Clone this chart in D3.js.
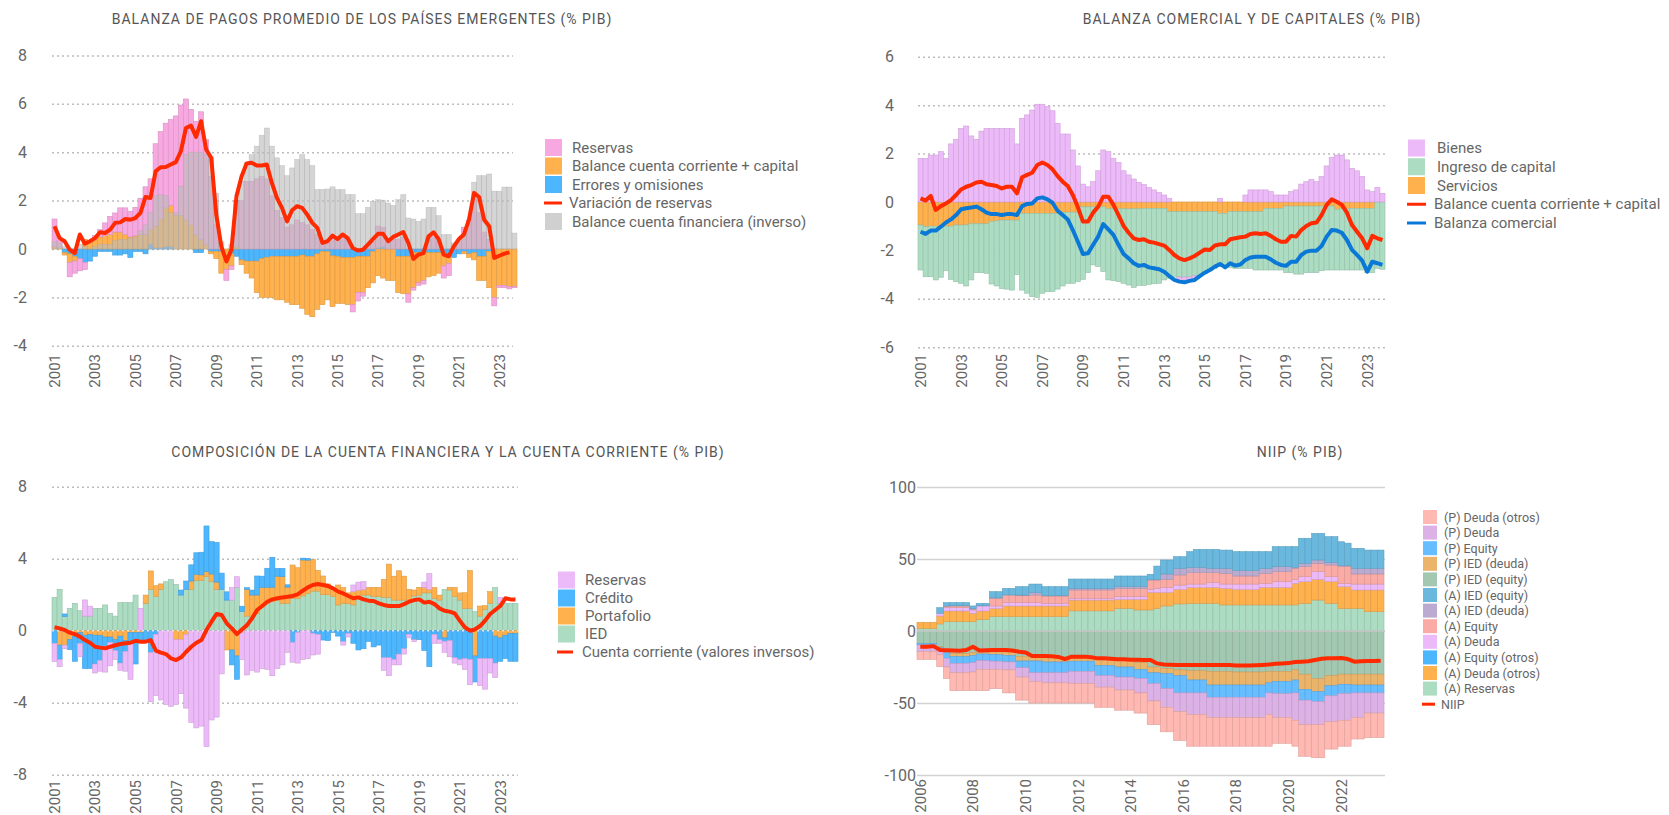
<!DOCTYPE html>
<html>
<head>
<meta charset="utf-8">
<script src="https://cdn.jsdelivr.net/npm/d3@7"></script>
<style>
body { margin: 0; background: #fff; }
text { font-family: Roboto, "Noto Sans", sans-serif; }
.title { font-size: 14px; fill: #555; letter-spacing: 1px; }
.axis text { font-size: 16px; fill: #666; font-family: Roboto, "Noto Sans", sans-serif; }
.axis.xlab text { font-size: 15px; }
.legend text { fill: #666; }
</style>
</head>
<body>
<svg id="chart"></svg>
<script>
// ---------- categories / ticks ----------
function yearQuarters(startYear, count) {
  const out = [];
  for (let i = 0; i < count; i++) out.push((startYear + Math.floor(i / 4)) + "T" + (i % 4 + 1));
  return out;
}
const quarters01 = yearQuarters(2001, 92);   // 2001T1 .. 2023T4
const quarters06 = yearQuarters(2006, 71);   // 2006T1 .. 2023T3
const ticks01 = ["2001","2003","2005","2007","2009","2011","2013","2015","2017","2019","2021","2023"];
const ticks06 = ["2006","2008","2010","2012","2014","2016","2018","2020","2022"];

// ---------- panel 1: balanza de pagos ----------
const p1Errores = [
  0, 0, -0.15, -0.2,   -0.3, -0.4, -0.55, -0.5,   -0.3, -0.1, -0.1, -0.1,   -0.25, -0.25, -0.2, -0.35,
  -0.1, -0.1, -0.2, 0.2,   0.05, 0.05, 0.1, 0.1,   0, 0, 0, 0,   -0.15, -0.15, 0, -0.1,
  -0.1, -0.1, 0, -0.2,   -0.3, -0.45, -0.5, -0.5,   -0.5, -0.4, -0.35, -0.3,   -0.3, -0.3, -0.3, -0.3,
  -0.3, -0.25, -0.3, -0.3,   -0.2, -0.1, -0.1, -0.28,   -0.3, -0.35, -0.35, -0.35,   -0.3, -0.3, -0.3, -0.1,
  0.05, 0.1, 0, 0,   -0.3, -0.3, -0.3, -0.15,   -0.15, -0.1, -0.15, -0.15,   -0.15, -0.2, -0.3, -0.35,
  -0.2, -0.1, -0.2, -0.15,   -0.3, -0.3, -0.1, 0,   0, 0, 0, 0
];
const p1Balance = [
  0.1, 0.05, -0.1, -0.35,   -0.2, 0, 0.4, 0.3,   0.4, 0.5, 0.55, 0.6,   0.7, 0.7, 0.6, 0.5,
  0.55, 0.6, 0.6, 0.6,   0.9, 1.2, 1.6, 1.7,   1.4, 1.4, 1.2, 1.0,   0.6, 0.4, 0.2, -0.1,
  -0.3, -0.9, -0.85, -0.5,   0.1, -0.2, -0.5, -0.7,   -1.3, -1.6, -1.65, -1.7,   -1.8, -1.8, -1.9, -2.0,
  -2.0, -2.2, -2.4, -2.5,   -2.3, -2.2, -2.0, -2.1,   -1.95, -1.9, -1.95, -1.95,   -1.5, -1.5, -1.3, -1.3,
  -1.1, -1.2, -1.3, -1.3,   -1.5, -1.55, -1.55, -1.45,   -1.25, -1.2, -1.0, -0.95,   -0.85, -0.5, -0.3, 0,
  0, -0.1, -0.15, -0.3,   -1.0, -1.0, -1.5, -2.0,   -1.5, -1.5, -1.55, -1.55
];
const p1Reservas = [
  1.14, 0.3, 0, -0.6,   -0.5, -0.5, -0.3, 0,   0.15, 0.3, 0.53, 0.75,   0.79, 1.0, 1.1, 1.06,
  1.17, 1.5, 1.97, 2.1,   3.4, 3.6, 3.5, 3.55,   4.1, 4.55, 5.0, 4.77,   4.68, 5.27, 4.32, 3.0,
  1.0, 0, -0.45, -0.15,   1.9, 2.0, 2.8, 2.8,   2.9, 3.0, 2.9, 2.2,   1.6, 1.3, 0.9, 1.0,
  1.2, 1.1, 1.0, 0.8,   0.6, 0.3, 0.3, 0.5,   0.4, 0.5, 0.4, -0.3,   -0.35, -0.15, 0.2, 0.3,
  0.9, 0.8, 0.4, 0.4,   0.4, 0.5, -0.35, -0.1,   -0.1, -0.15, 0.5, 0.5,   0.3, -0.5, -0.5, 0.1,
  0.3, 0.9, 1.2, 2.1,   1.5, 0.7, 0.4, -0.35,   -0.1, -0.1, -0.1, -0.05
];
const p1Financiera = [
  0.3, 0.25, 0.1, 0,   0, 0.2, 0.1, 0,   0.1, 0.2, 0.2, 0.2,   0.35, 0.4, 0.4, 0.45,
  0.5, 0.75, 1.0, 1.5,   2.2, 2.25, 2.2, 1.5,   1.5, 2.6, 3.9, 4.0,   4.0, 4.0, 3.9, 3.8,
  2.3, 0.3, 0, 0.2,   2.0, 2.8, 3.56, 3.9,   4.25, 4.7, 5.0, 4.25,   3.77, 3.45, 3.03, 3.35,
  3.7, 3.9, 3.7, 3.45,   2.46, 2.46, 2.48, 2.57,   2.46, 2.46, 2.25, 2.25,   1.46, 1.46, 1.72, 1.97,
  2.04, 2.02, 1.9, 1.8,   2.04, 2.25, 1.28, 1.24,   1.14, 1.24, 1.72, 1.72,   1.38, 0.6, 0.6, 0.25,
  0.39, 0.52, 1.08, 2.76,   3.03, 3.03, 3.1, 2.39,   2.39, 2.56, 2.56, 0.66
];
const p1Variacion = [
  0.94, 0.45, 0.32, -0.03,   -0.17, 0.6, 0.22, 0.32,   0.45, 0.69, 0.66, 0.8,   1.08, 1.1, 1.24, 1.21,
  1.28, 1.49, 2.15, 2.11,   3.21, 3.38, 3.39, 3.49,   3.59, 4.04, 5.0, 5.1,   4.63, 5.28, 4.11, 3.77,
  1.42, 0.11, -0.51, -0.03,   2.18, 3.0, 3.53, 3.56,   3.45, 3.45, 3.49, 2.73,   2.11, 1.7, 1.14, 1.6,
  1.77, 1.7, 1.42, 1.08,   0.87, 0.25, 0.32, 0.55,   0.41, 0.6, 0.45, 0.04,   -0.06, -0.03, 0.18, 0.41,
  0.63, 0.63, 0.32, 0.5,   0.6, 0.7, 0.25, -0.41,   -0.23, -0.17, 0.52, 0.69,   0.41, -0.23, -0.3, 0.11,
  0.41, 0.6, 1.21, 2.32,   2.15, 1.21, 0.94, -0.37,   -0.28, -0.19, -0.14, null
];

// ---------- panel 2: balanza comercial y de capitales ----------
const p2Bienes = [
  1.8, 1.8, 1.94, 1.94,   2.08, 1.8, 2.4, 2.59,   3.04, 3.14, 2.73, 2.59,   2.93, 3.04, 3.04, 3.04,
  3.04, 3.04, 3.04, 2.4,   3.46, 3.6, 3.8, 4.04,   4.04, 3.94, 3.77, 3.25,   2.81, 2.81, 2.15, 1.49,
  0.74, 0.63, 0.84, 1.29,   2.15, 2.08, 1.8, 1.63,   1.29, 1.12, 0.95, 0.81,   0.72, 0.6, 0.5, 0.39,
  0.29, 0.15, 0, -0.1,   -0.1, -0.1, -0.1, 0,   0, 0, 0, 0.15,   0, 0, 0, 0,
  0.29, 0.5, 0.5, 0.5,   0.5, 0.43, 0.29, 0.29,   0.29, 0.43, 0.5, 0.74,   0.84, 0.94, 0.84, 1.05,
  1.49, 1.85, 1.94, 1.94,   1.74, 1.39, 1.29, 1.05,   0.5, 0.43, 0.6, 0.36
];
const p2Ingreso = [
  -1.86, -2.07, -2.09, -2.22,   -2.11, -1.84, -2.2, -2.34,   -2.41, -2.52, -2.32, -2.02,   -2.02, -2.05, -2.59, -2.69,
  -2.83, -2.85, -2.89, -2.25,   -3.17, -3.3, -3.44, -3.47,   -3.3, -3.23, -3.23, -3.13,   -3.05, -2.94, -2.94, -2.87,
  -3.0, -2.72, -2.4, -2.47,   -2.68, -2.94, -2.97, -3.01,   -3.08, -3.15, -3.25, -3.17,   -3.19, -3.14, -3.12, -3.1,
  -2.96, -2.75, -2.7, -2.7,   -2.7, -2.7, -2.65, -2.68,   -2.55, -2.44, -2.34, -2.2,   -2.2, -2.3, -2.34, -2.34,
  -2.34, -2.34, -2.41, -2.41,   -2.55, -2.55, -2.55, -2.55,   -2.75, -2.75, -2.81, -2.81,   -2.75, -2.75, -2.75, -2.67,
  -2.64, -2.64, -2.51, -2.55,   -2.55, -2.55, -2.55, -2.55,   -2.66, -2.66, -2.74, -2.78
];
const p2Servicios = [
  -0.95, -1.02, -1.0, -1.0,   -1.0, -1.0, -1.0, -0.95,   -0.95, -0.95, -0.9, -0.9,   -0.9, -0.9, -0.8, -0.78,
  -0.75, -0.75, -0.75, -0.75,   -0.47, -0.47, -0.47, -0.47,   -0.47, -0.47, -0.47, -0.47,   -0.42, -0.42, -0.42, -0.42,
  -0.2, -0.2, -0.2, -0.2,   -0.2, -0.28, -0.28, -0.28,   -0.28, -0.28, -0.28, -0.28,   -0.26, -0.26, -0.26, -0.26,
  -0.26, -0.4, -0.4, -0.4,   -0.4, -0.4, -0.4, -0.4,   -0.4, -0.4, -0.4, -0.47,   -0.47, -0.4, -0.4, -0.4,
  -0.4, -0.4, -0.4, -0.4,   -0.26, -0.26, -0.26, -0.26,   -0.17, -0.17, -0.17, -0.17,   -0.17, -0.17, -0.17, -0.17,
  -0.17, -0.17, -0.3, -0.26,   -0.26, -0.26, -0.26, -0.26,   -0.26, -0.26, 0, 0
];
const p2BalanceCC = [
  0.15, 0.06, 0.25, -0.33,   -0.17, -0.06, 0.08, 0.29,   0.52, 0.63, 0.7, 0.81,   0.84, 0.73, 0.7, 0.66,
  0.56, 0.63, 0.63, 0.36,   1.02, 1.12, 1.21, 1.53,   1.63, 1.53, 1.35, 1.07,   0.84, 0.66, 0.29, -0.22,
  -0.81, -0.81, -0.44, -0.19,   0.22, 0.22, -0.12, -0.54,   -0.99, -1.27, -1.5, -1.57,   -1.54, -1.64, -1.68, -1.74,
  -1.8, -1.98, -2.19, -2.33,   -2.4, -2.33, -2.23, -2.09,   -1.96, -1.98, -1.8, -1.75,   -1.75, -1.54, -1.5, -1.46,
  -1.43, -1.32, -1.29, -1.32,   -1.29, -1.4, -1.54, -1.64,   -1.64, -1.4, -1.43, -1.16,   -0.99, -0.88, -0.85, -0.54,
  -0.12, 0.11, 0.01, -0.12,   -0.44, -0.95, -1.23, -1.5,   -1.91, -1.4, -1.5, -1.57
];
const p2Comercial = [
  -1.23, -1.32, -1.18, -1.18,   -1.02, -0.85, -0.72, -0.54,   -0.3, -0.26, -0.23, -0.19,   -0.3, -0.44, -0.5, -0.5,
  -0.54, -0.5, -0.5, -0.54,   -0.17, -0.08, -0.06, 0.15,   0.19, 0.11, -0.03, -0.36,   -0.54, -0.72, -1.16, -1.64,
  -2.15, -2.12, -1.77, -1.43,   -0.91, -1.13, -1.36, -1.77,   -2.15, -2.33, -2.53, -2.64,   -2.6, -2.7, -2.74, -2.78,
  -2.88, -3.06, -3.22, -3.29,   -3.32, -3.26, -3.22, -3.06,   -2.92, -2.81, -2.67, -2.56,   -2.7, -2.53, -2.63, -2.58,
  -2.4, -2.29, -2.26, -2.26,   -2.26, -2.37, -2.51, -2.6,   -2.64, -2.47, -2.47, -2.19,   -2.05, -2.01, -2.01, -1.82,
  -1.43, -1.16, -1.18, -1.27,   -1.57, -1.98, -2.19, -2.42,   -2.88, -2.47, -2.53, -2.6
];

// ---------- panel 3: cuenta financiera y cuenta corriente ----------
const p3IED = [
  1.85, 2.3, 0.78, 1.24,   1.52, 1.11, 0.81, 0.81,   1.24, 1.24, 1.43, 0.96,   0.81, 1.56, 1.56, 1.56,
  1.98, 0, 1.52, 2.3,   1.9, 2.3, 2.72, 2.85,   2.57, 1.98, 2.3, 2.3,   2.8, 2.8, 3.0, 2.72,
  2.3, 2.3, 1.7, 1.7,   2.4, 1.06, 0.81, 0.81,   0.96, 1.33, 1.52, 1.61,   1.7, 1.52, 1.52, 1.8,
  1.8, 1.93, 2.07, 2.2,   2.2, 2.0, 2.0, 1.9,   1.43, 1.52, 1.5, 1.43,   1.85, 1.98, 1.98, 1.89,
  1.89, 1.85, 1.85, 1.7,   1.7, 1.7, 1.7, 1.93,   1.98, 2.1, 2.1, 1.8,   1.7, 2.3, 2.26, 1.89,
  1.7, 1.24, 1.24, 1.06,   0.81, 1.19, 1.52, 2.4,   1.52, 1.52, 1.52, 1.52
];
const p3Portafolio = [
  0, -0.8, -0.8, -0.5,   -0.3, -0.1, -0.25, -0.2,   -0.25, -0.25, -0.35, -0.35,   -0.5, -0.3, -0.55, -0.1,
  -0.1, -0.1, 0.46, 1.02,   0.6, 0.3, 0, 0,   -0.5, -0.5, -0.2, 0.46,   0.33, 0.3, 0.28, 0.43,
  0.4, 0, -1.07, -1.07,   -1.4, -0.1, 1.48, 1.17,   1.02, 1.07, 0.89, 0.8,   1.33, 1.48, 0.9, 1.85,
  1.7, 2.0, 1.85, 1.76,   1.15, 1.04, 0.6, 0.45,   1.11, 0.88, 0.6, 0.74,   0.4, 0.3, 0.43, 0.52,
  0.52, 1.0, 1.85, 1.33,   1.63, 1.33, 0.6, 0.33,   0.43, 0.3, 0.2, 0.6,   0.28, -0.4, 0.15, 0.52,
  0.4, 0.87, 2.1, -1.4,   0.56, 0.2, 0.65, -0.3,   -0.4, -0.25, -0.15, -0.15
];
const p3Credito = [
  -0.7, -0.8, 0.15, -0.55,   -1.4, -0.6, -1.85, -1.9,   -1.6, -1.4, -0.5, -0.3,   -0.6, -1.5, -0.6, -0.5,
  -1.75, -0.5, -0.5, -1.2,   -0.2, 0, 0, 0,   0, 0.28, 0.46, 0.9,   1.2, 1.26, 2.54, 1.8,
  2.2, 0.9, 0.46, -0.83,   -1.3, 0.3, 0.1, 0.28,   1.06, 0.63, 1.06, 1.67,   0.43, 0.46, 0.13, -0.65,
  -0.1, 0.1, 0.1, -0.15,   -0.2, -0.52, -0.55, -0.1,   -0.3, -0.6, -0.15, -0.7,   -1.07, -1.0, -0.6, -0.9,
  -0.8, -1.5, -1.5, -1.6,   -1.3, -1.0, -0.2, -0.5,   -0.5, -1.1, -2.0, -0.2,   -0.5, -0.2, -0.55, -1.5,
  -1.6, -1.55, -1.6, -1.45,   -1.55, -1.55, -1.55, -1.5,   -1.3, -1.3, -1.55, -1.55
];
const p3Reservas = [
  -1.02, -0.4, -0.2, 0,   0, -0.75, 0.9, 0.55,   -0.5, -0.6, -1.45, -1.3,   -0.5, -0.4, -1.1, -2.1,
  0, 1.24, 0, -2.75,   -3.4, -3.85, -4.1, -4.2,   -3.6, -3.0, -4.1, -5.1,   -5.4, -5.3, -6.44, -4.96,
  -4.8, -2.4, 0, 0.7,   0.6, -1.5, -2.46, -2.2,   -2.3, -2.1, -2.15, -2.5,   -2.1, -1.9, -1.2, -1.1,
  -1.7, -1.6, -1.55, -1.2,   -1.1, 0, 0, 0,   0, -0.2, -0.2, 0.37,   0.45, 0.45, 0, 0,
  0, -0.7, -1.0, -0.3,   -0.6, -0.3, -0.2, -0.1,   0, 0.3, 0.87, -0.5,   -0.2, -0.6, -0.9, -0.3,
  -0.3, -0.6, -1.4, 0,   -1.5, -1.7, -0.8, -0.8,   0.33, 0, 0, 0
];
const p3Corriente = [
  0.19, 0.13, 0.04, -0.11,   -0.19, -0.33, -0.52, -0.67,   -0.89, -0.94, -0.98, -0.89,   -0.81, -0.74, -0.7, -0.67,
  -0.56, -0.61, -0.61, -0.52,   -1.11, -1.22, -1.3, -1.54,   -1.63, -1.48, -1.17, -0.89,   -0.67, -0.52, 0.04, 0.5,
  0.93, 0.87, 0.41, 0.13,   -0.19, 0.07, 0.31, 0.69,   1.15, 1.37, 1.61, 1.74,   1.8, 1.85, 1.89, 1.93,
  2.02, 2.22, 2.41, 2.54,   2.59, 2.54, 2.48, 2.35,   2.17, 2.07, 1.93, 1.8,   1.85, 1.74, 1.67, 1.65,
  1.52, 1.43, 1.37, 1.37,   1.37, 1.48, 1.61, 1.7,   1.74, 1.56, 1.61, 1.48,   1.24, 1.11, 1.06, 0.96,
  0.56, 0.19, 0, 0.07,   0.26, 0.56, 0.93, 1.15,   1.37, 1.8, 1.74, 1.74
];

// ---------- panel 4: NIIP ----------
const aReservas = [1.85,1.85,1.85, 4.9, 6.5, 6.5,6.5,6.5, 6.5, 8.1,8.1, 10,10, 10,10, 10,10, 10,10, 10,10,10,10,
  14,14,14,14, 14,14,14, 15.7,15.7,15.7, 14.6,14.6, 14.6, 15.7, 17.4,17.4, 18.8,18.8, 19.2,19.2,19.2, 19.2,19.2,
  18.1,18.1, 18.1,18.1,18.1,18.1, 18.1,18.1, 18.1,18.1,18.1, 18.1, 19.2,19.2, 21.5,21.5, 19.2,19.2, 15.7,15.7,
  15.7,15.7, 13.4,13.4,13.4];
const aDeudaOtros = [4.2,4.2,4.2, 5.5, 7.4, 7.4,7.4,7.4, 5.8, 5.8,5.8, 5.7,5.7, 7.4,7.4, 7.4,7.4, 7.4,7.4, 7.4,7.4,7.4,7.4,
  7.5,7.5,7.5,7.5, 7.5,7.5,7.5, 6.3,6.3,6.3, 7.4,7.4, 12.3, 11.2, 9.5,9.5, 10.1,10.1, 11.1,11.1,11.1, 11.1,11.1,
  11.5,11.5, 10.8,10.8,10.8,10.8, 12.2,12.2, 12.2,12.2,12.2, 15, 15.1,15.1, 14.4,14.4, 15.1,15.1, 15.1,15.1,
  12.8,12.8, 15.1,15.1,15.1];
const aEquityOtros = [0,0,0, 0, 0, 0,0,0, 0, 0,0, 0,0, 0,0, 0,0, 0,0, 0,0,0,0,
  0,0,0,0, 0,0,0, 0,0,0, 0,0, 0, 0, 0,0, 0,0, 0,0,0, 0,0,
  0,0, 0,0,0,0, 0,0, 0,0,0, 0, 0,0, 0,0, 0,0, 0,0,
  0,0, 0,0,0];
const aDeuda = [0,0,0, 1.9, 2.3, 2.3,2.3,2.3, 2.3, 3.5,3.5, 1.7,1.7, 2.4,2.4, 2.3,2.3, 2.3,2.3, 1.8,1.8,1.8,1.8,
  1.2,1.2,1.2,1.2, 1.2,1.2,1.2, 1.8,1.8,1.8, 1.8,1.8, 2.0, 2.7, 3.4,3.4, 3.0,3.0, 2.3,2.3,2.3, 3.3,3.3,
  3.0,3.0, 3.7,3.7,3.7,3.7, 2.8,2.8, 4.0,4.0,4.0, 2.8, 3.4,3.4, 5.3,5.3, 3.4,3.4, 2.2,2.2,
  4.1,4.1, 4.1,4.1,4.1];
const aEquity = [0,0,0, 0, 0.7, 1.2,1.2,1.2, 0.6, 0,0, 5.3,5.3, 5.2,5.2, 4.8,4.8, 5.3,5.3, 5.1,5.1,5.1,5.1,
  5.8,5.8,5.8,5.8, 5.8,5.8,5.8, 5.8,5.8,5.8, 5.8,5.8, 6.5, 5.8, 5.6,5.6, 7.0,7.0, 7.9,7.9,7.9, 6.9,6.9,
  7.4,7.4, 5.6,5.6,5.6,5.6, 6.9,6.9, 6.9,6.9,6.9, 7.6, 7.0,7.0, 5.8,5.8, 8.1,8.1, 12,12,
  7.0,7.0, 7.0,7.0,7.0];
const aIEDdeuda = [0,0,0, 0, 0.5, 0.2,0.2,0.2, 0.3, 0.2,0.2, 0.5,0.5, 0,0, 0.5,0.5, 1.6,1.6, 0.3,0.3,0.3,0.3,
  1.1,1.1,1.1,1.1, 1.1,1.1,1.1, 1.2,1.2,1.2, 1.2,1.2, 0.2, 0.5, 3.7,3.7, 4.6,4.6, 3.7,3.7,3.7, 3.0,3.0,
  3.5,3.5, 3.7,3.7,3.7,3.7, 3.5,3.5, 3.5,3.5,3.5, 0.7, 2.3,2.3, 2.3,2.3, 1.7,1.7, 0.5,0.5,
  3.9,3.9, 3.9,3.9,3.9];
const aIEDequity = [0,0,0, 3.9, 2.3, 2.1,2.1,2.1, 1.9, 1.6,1.6, 4.1,4.1, 4.6,4.6, 5.8,5.8, 6.0,6.0, 6.2,6.2,6.2,6.2,
  6.5,6.5,6.5,6.5, 6.5,6.5,6.5, 7.4,7.4,7.4, 7.4,7.4, 3.8, 9.2, 9.7,9.7, 8.1,8.1, 10.9,12.5,12.5, 13.2,13.2,
  12.7,12.7, 13.2,13.2,13.2,13.2, 11.6,11.6, 13.9,13.9,13.9, 14.4, 17.4,17.4, 18.5,18.5, 18,18, 16.5,15.5,
  13.9,13.9, 12.7,12.7,12.7];
const pIEDequity = [-8.6,-8.6,-8.6, -10.9, -13, -15.5,-15.5,-15.5, -15, -15,-15, -14.5,-14.5, -14.5,-14.5, -17.6,-17.6, -18,-18, -18,-18,-18,-18,
  -18,-18,-18,-18, -20,-20,-20, -20,-20,-20, -22,-22, -25, -25, -26,-26, -27,-27, -27.5,-27.5,-27.5, -28,-28,
  -28,-28, -28.5,-28.5,-28.5,-28.5, -28.5,-28, -28,-28,-28, -27, -30,-30, -33,-33, -31,-31, -30,-30,
  -30,-30, -30,-30,-30];
const pIEDdeuda = [0,0,0, -0.6, -2, -2.3,-2.3,-2.3, -2, -1,-1, -1.9,-1.9, -2.5,-2.5, -3.2,-3.2, -2.8,-2.8, -3.5,-3.5,-3.5,-3.5,
  -3,-3,-3,-3, -4,-4,-4, -5,-5,-5, -4.6,-4.6, -4, -4, -3.6,-3.6, -4,-4, -6.5,-6.5,-6.5, -9.5,-9.5,
  -9.5,-9.5, -9,-9,-9,-9, -9,-8, -7,-7,-7, -7, -10.5,-10.5, -9,-9, -7,-7, -7,-7,
  -7.5,-7.5, -7.5,-7.5,-7.5];
const pEquity = [-1.1,-1.1,-1.1, -1.5, -4, -4.7,-4.7,-4.7, -5, -4.6,-4.6, -4.6,-4.6, -4.5,-4.5, -4.7,-4.7, -8.2,-8.2, -7.5,-7.5,-7.5,-7.5,
  -7,-7,-7,-7, -7,-7,-7, -7,-7,-7, -6.4,-6.4, -7.5, -7.5, -10.4,-10.4, -12,-12, -9,-9,-9, -8.5,-8.5,
  -8.5,-8.5, -8.5,-8.5,-8.5,-8.5, -8.5,-7, -8.5,-8.5,-8.5, -9, -7.5,-7.5, -7,-7, -7,-7, -6.5,-6.5,
  -5.5,-5.5, -5.5,-5.5,-5.5];
const pDeuda = [-4.7,-4.7,-4.7, -3.5, -6, -6.5,-6.5,-6.5, -6.5, -6,-6, -5.6,-5.6, -5.5,-5.5, -6.5,-6.5, -6,-6, -7,-7,-7,-7,
  -8.5,-8.5,-8.5,-8.5, -8,-8,-8, -9,-9,-9, -10,-10, -12.1, -12.1, -13,-13, -13,-13, -15,-15,-15, -14,-14,
  -14,-14, -14.2,-14.2,-14.2,-14.2, -14.2,-15, -16.5,-16.5,-16.5, -19, -17,-17, -16,-16, -18,-18, -18.5,-18.5,
  -17,-17, -14,-14,-14];
const pDeudaOtros = [-5.3,-5.3,-5.3, -8.3, -8, -12.4,-12.4,-12.4, -12.9, -14.8,-14.8, -13.4,-13.4, -16,-16, -16,-16, -15,-15, -14,-14,-14,-14,
  -13.5,-13.5,-13.5,-13.5, -14,-14,-14, -14,-14,-14, -14,-14, -16.4, -16.4, -17,-17, -20,-20, -22,-22,-22, -20,-20,
  -20,-20, -19.8,-19.8,-19.8,-19.8, -19.8,-22, -18,-18,-18, -18, -22,-22, -23,-23, -19,-19, -18,-18,
  -15,-15, -17,-17,-17];
const niip = [-10.9, -10.9, -10.5, -13.2, -13.4, -13.6, -13.7, -13.2, -10.9, -13.5,
  -13.4, -13.2, -13.2, -13.2, -13.5, -14.4, -15, -17.4, -17.4, -17.4,
  -17.6, -18, -19.5, -17.8, -17.8, -17.8, -18.2, -19, -19, -19.3,
  -19.6, -19.7, -20, -20, -20.1, -20.1, -22.5, -23.3, -23.5, -23.6,
  -23.6, -23.6, -23.6, -23.6, -23.6, -23.6, -23.6, -23.6, -24, -24,
  -24, -23.8, -23.6, -23.3, -22.8, -22.5, -22.3, -21.5, -21.3, -21,
  -20.1, -19.3, -19, -19, -18.8, -19.5, -21.3, -21, -20.8, -20.8, -20.6];

// ---------- colours ----------
const cPink = "#f8a8e0", cOrange = "#ffb14e", cBlue = "#4cb6ff", cGray = "#bcbcbc";
const cViolet = "#ecbaf8", cGreen = "#acdcc2", cRed = "#ff2a00", cLineBlue = "#0a78d6";

const svg = d3.select("#chart").attr("width", 1669).attr("height", 815);

function makeTable(cats, cols) {
  return cats.map((q, i) => {
    const row = { q: q };
    Object.keys(cols).forEach(k => { row[k] = cols[k][i]; });
    return row;
  });
}

function drawPanel(o) {
  const g = svg.append("g");
  const x = d3.scaleBand().domain(o.cats).range(o.xRange);
  const y = d3.scaleLinear().domain(o.yDomain).range(o.yRange);

  g.append("text").attr("class", "title")
    .attr("x", o.titleX).attr("y", o.titleY)
    .attr("text-anchor", "middle").attr("dominant-baseline", "central")
    .text(o.title);

  const grid = g.append("g").attr("transform", `translate(${o.gridX[0]},0)`)
    .call(d3.axisLeft(y).tickValues(o.yTicks).tickSize(-(o.gridX[1] - o.gridX[0])).tickFormat(""));
  grid.select(".domain").remove();
  grid.selectAll("line")
    .attr("stroke", o.gridSolid ? "#d2d2d2" : "#bdbdbd")
    .attr("stroke-width", 1.5)
    .attr("stroke-dasharray", o.gridSolid ? null : "2,3");

  const yl = g.append("g").attr("class", "axis").attr("transform", `translate(${o.yLabelX},0)`)
    .call(d3.axisLeft(y).tickValues(o.yTicks).tickSize(0).tickPadding(0).tickFormat(d => String(d)));
  yl.select(".domain").remove();

  const xl = g.append("g").attr("class", "axis xlab").attr("transform", `translate(0,${o.xLabelTop})`)
    .call(d3.axisBottom(x).tickValues(o.xTicks.map(t => t + "T1")).tickSize(0).tickFormat(d => d.slice(0, 4)));
  xl.select(".domain").remove();
  xl.selectAll("text")
    .attr("transform", "rotate(-90)")
    .attr("x", 0).attr("y", 0).attr("dy", "0.36em")
    .attr("text-anchor", "end");

  const stacked = d3.stack().keys(o.keys).offset(d3.stackOffsetDiverging)(o.table);
  g.append("g").selectAll("g").data(stacked).join("g")
    .attr("fill", s => o.colors[s.key])
    .attr("stroke", s => d3.color(o.colors[s.key]).darker(0.4))
    .attr("stroke-width", 0.6)
    .selectAll("rect").data(s => s.filter(d => d[1] !== d[0])).join("rect")
    .attr("x", d => x(d.data.q))
    .attr("width", x.bandwidth())
    .attr("y", d => y(d[1]))
    .attr("height", d => y(d[0]) - y(d[1]));

  if (o.overlay) {
    g.append("g").attr("fill", o.overlay.color).attr("fill-opacity", o.overlay.opacity)
      .attr("stroke", "#a8a8a8").attr("stroke-opacity", 0.5).attr("stroke-width", 0.6)
      .selectAll("rect").data(o.overlay.values.map((v, i) => ({ q: o.cats[i], v: v })).filter(d => d.v))
      .join("rect")
      .attr("x", d => x(d.q)).attr("width", x.bandwidth())
      .attr("y", d => y(Math.max(0, d.v)))
      .attr("height", d => Math.abs(y(d.v) - y(0)));
  }

  if (o.zeroLine) {
    g.append("line")
      .attr("x1", o.gridX[0]).attr("x2", o.gridX[1])
      .attr("y1", y(0)).attr("y2", y(0))
      .attr("stroke", o.zeroLine.color).attr("stroke-width", 1.5)
      .attr("stroke-dasharray", o.zeroLine.dash);
  }

  const line = d3.line()
    .defined(d => d.v !== null)
    .x(d => x(d.q) + x.bandwidth() / 2)
    .y(d => y(d.v));
  o.lines.forEach(l => {
    g.append("path")
      .datum(l.values.map((v, i) => ({ q: o.cats[i], v: v })))
      .attr("fill", "none").attr("stroke", l.color).attr("stroke-width", 4)
      .attr("stroke-linejoin", "round")
      .attr("d", line);
  });

  // legend
  const lg = g.append("g").attr("class", "legend");
  const L = o.legend;
  L.items.forEach((it, i) => {
    const cy = L.y + i * L.step;
    if (it.type === "rect") {
      lg.append("rect").attr("x", L.x).attr("y", cy - L.sw / 2)
        .attr("width", L.sw).attr("height", L.sw).attr("fill", it.color);
    } else {
      lg.append("line").attr("x1", L.x - 1).attr("x2", L.x + L.lineW)
        .attr("y1", cy).attr("y2", cy)
        .attr("stroke", it.color).attr("stroke-width", 3);
    }
    lg.append("text").attr("x", it.type === "rect" ? L.tx : L.tx - 3).attr("y", cy)
      .attr("dominant-baseline", "central").attr("font-size", L.fs)
      .text(it.label);
  });
}

// ---------- panel 1 ----------
drawPanel({
  cats: quarters01, xRange: [52, 517], yDomain: [-4, 8], yRange: [345.8, 55.4],
  yTicks: [-4, -2, 0, 2, 4, 6, 8], gridX: [52, 513], yLabelX: 27, xLabelTop: 354, xTicks: ticks01,
  title: "BALANZA DE PAGOS PROMEDIO DE LOS PAÍSES EMERGENTES (% PIB)", titleX: 362, titleY: 19,
  keys: ["errores", "balance", "reservas"],
  table: makeTable(quarters01, { errores: p1Errores, balance: p1Balance, reservas: p1Reservas }),
  colors: { errores: cBlue, balance: cOrange, reservas: cPink },
  overlay: { values: p1Financiera, color: cGray, opacity: 0.62 },
  lines: [{ values: p1Variacion, color: cRed }],
  legend: { x: 545, tx: 572, y: 147.5, step: 18.5, sw: 17, lineW: 17, fs: 15, items: [
    { type: "rect", color: cPink, label: "Reservas" },
    { type: "rect", color: cOrange, label: "Balance cuenta corriente + capital" },
    { type: "rect", color: cBlue, label: "Errores y omisiones" },
    { type: "line", color: cRed, label: "Variación de reservas" },
    { type: "rect", color: "#d0d0d0", label: "Balance cuenta financiera (inverso)" }
  ] }
});

// ---------- panel 2 ----------
drawPanel({
  cats: quarters01, xRange: [918, 1385], yDomain: [-6, 6], yRange: [347.2, 56.8],
  yTicks: [-6, -4, -2, 0, 2, 4, 6], gridX: [918, 1386], yLabelX: 894, xLabelTop: 354, xTicks: ticks01,
  title: "BALANZA COMERCIAL Y DE CAPITALES (% PIB)", titleX: 1252, titleY: 19,
  keys: ["servicios", "ingreso", "bienes"],
  table: makeTable(quarters01, { servicios: p2Servicios, ingreso: p2Ingreso, bienes: p2Bienes }),
  colors: { servicios: cOrange, ingreso: cGreen, bienes: cViolet },
  lines: [{ values: p2BalanceCC, color: cRed }, { values: p2Comercial, color: cLineBlue }],
  legend: { x: 1408, tx: 1437, y: 148, step: 18.75, sw: 17, lineW: 18, fs: 15, items: [
    { type: "rect", color: cViolet, label: "Bienes" },
    { type: "rect", color: cGreen, label: "Ingreso de capital" },
    { type: "rect", color: cOrange, label: "Servicios" },
    { type: "line", color: cRed, label: "Balance cuenta corriente + capital" },
    { type: "line", color: cLineBlue, label: "Balanza comercial" }
  ] }
});

// ---------- panel 3 ----------
drawPanel({
  cats: quarters01, xRange: [52, 518], yDomain: [-8, 8], yRange: [774.7, 486.7],
  yTicks: [-8, -4, 0, 4, 8], gridX: [52, 518], yLabelX: 27, xLabelTop: 780, xTicks: ticks01,
  title: "COMPOSICIÓN DE LA CUENTA FINANCIERA Y LA CUENTA CORRIENTE (% PIB)", titleX: 448, titleY: 452,
  keys: ["ied", "portafolio", "credito", "reservas"],
  table: makeTable(quarters01, { ied: p3IED, portafolio: p3Portafolio, credito: p3Credito, reservas: p3Reservas }),
  colors: { ied: cGreen, portafolio: cOrange, credito: cBlue, reservas: cViolet },
  zeroLine: { color: "#e4e4e4", dash: "2,3" },
  lines: [{ values: p3Corriente, color: cRed }],
  legend: { x: 558, tx: 585, y: 580, step: 18, sw: 17, lineW: 15, fs: 15, items: [
    { type: "rect", color: cViolet, label: "Reservas" },
    { type: "rect", color: cBlue, label: "Crédito" },
    { type: "rect", color: cOrange, label: "Portafolio" },
    { type: "rect", color: cGreen, label: "IED" },
    { type: "line", color: cRed, label: "Cuenta corriente (valores inversos)" }
  ] }
});

// ---------- panel 4 ----------
const p4Colors = {
  pDeudaOtros: "#ffb8b2", pDeuda: "#dcb2e6", pEquity: "#66bdff", pIEDdeuda: "#ebb46b", pIEDequity: "#a2c8b1",
  aIEDequity: "#6ab8de", aIEDdeuda: "#bcabd0", aEquity: "#fbaba5", aDeuda: cViolet, aEquityOtros: cBlue,
  aDeudaOtros: cOrange, aReservas: cGreen
};
drawPanel({
  cats: quarters06, xRange: [917, 1384], yDomain: [-100, 100], yRange: [775, 487],
  yTicks: [-100, -50, 0, 50, 100], gridX: [917, 1385], gridSolid: true, yLabelX: 916, xLabelTop: 779, xTicks: ticks06,
  title: "NIIP (% PIB)", titleX: 1300, titleY: 452,
  keys: ["aReservas", "aDeudaOtros", "aEquityOtros", "aDeuda", "aEquity", "aIEDdeuda", "aIEDequity",
         "pIEDequity", "pIEDdeuda", "pEquity", "pDeuda", "pDeudaOtros"],
  table: makeTable(quarters06, {
    aReservas: aReservas, aDeudaOtros: aDeudaOtros, aEquityOtros: aEquityOtros, aDeuda: aDeuda, aEquity: aEquity,
    aIEDdeuda: aIEDdeuda, aIEDequity: aIEDequity, pIEDequity: pIEDequity, pIEDdeuda: pIEDdeuda,
    pEquity: pEquity, pDeuda: pDeuda, pDeudaOtros: pDeudaOtros }),
  colors: p4Colors,
  zeroLine: { color: "#c8c8c8", dash: null },
  lines: [{ values: niip, color: cRed }],
  legend: { x: 1423, tx: 1444, y: 517, step: 15.6, sw: 14, lineW: 12, fs: 12.5, items: [
    { type: "rect", color: p4Colors.pDeudaOtros, label: "(P) Deuda (otros)" },
    { type: "rect", color: p4Colors.pDeuda, label: "(P) Deuda" },
    { type: "rect", color: p4Colors.pEquity, label: "(P) Equity" },
    { type: "rect", color: p4Colors.pIEDdeuda, label: "(P) IED (deuda)" },
    { type: "rect", color: p4Colors.pIEDequity, label: "(P) IED (equity)" },
    { type: "rect", color: p4Colors.aIEDequity, label: "(A) IED (equity)" },
    { type: "rect", color: p4Colors.aIEDdeuda, label: "(A) IED (deuda)" },
    { type: "rect", color: p4Colors.aEquity, label: "(A) Equity" },
    { type: "rect", color: p4Colors.aDeuda, label: "(A) Deuda" },
    { type: "rect", color: p4Colors.aEquityOtros, label: "(A) Equity (otros)" },
    { type: "rect", color: p4Colors.aDeudaOtros, label: "(A) Deuda (otros)" },
    { type: "rect", color: p4Colors.aReservas, label: "(A) Reservas" },
    { type: "line", color: cRed, label: "NIIP" }
  ] }
});
</script>
</body>
</html>
